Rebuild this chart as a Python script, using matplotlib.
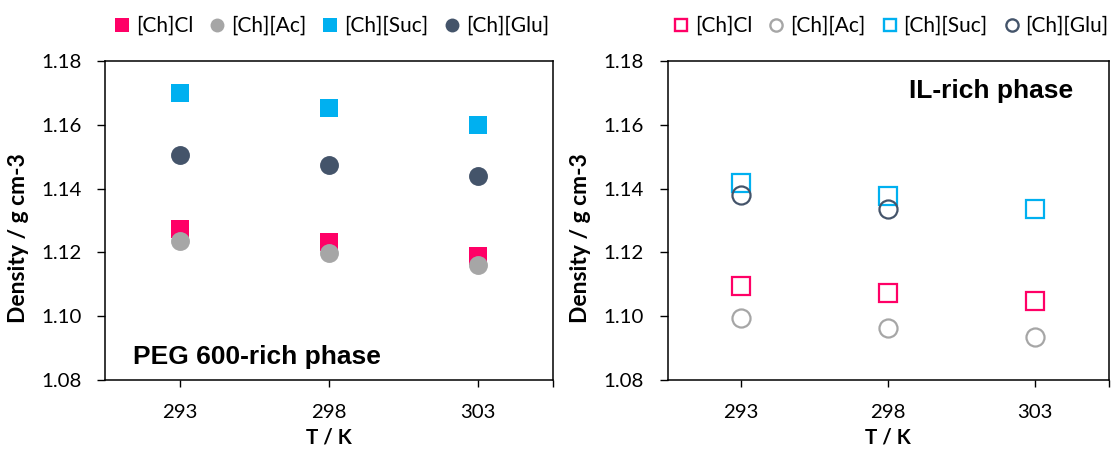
import matplotlib
matplotlib.use("Agg")
import matplotlib.pyplot as plt
from matplotlib.lines import Line2D

# Temperatures (K) and densities (g cm-3) of the coexisting phases
temperatures = ["293", "298", "303"]
series_names = ["[Ch]Cl", "[Ch][Ac]", "[Ch][Suc]", "[Ch][Glu]"]

peg_cl = [1.1272, 1.1231, 1.1190]
peg_ac = [1.1237, 1.1197, 1.1160]
peg_suc = [1.1700, 1.1653, 1.1600]
peg_glu = [1.1505, 1.1474, 1.1439]

il_cl = [1.1096, 1.1072, 1.1048]
il_ac = [1.0993, 1.0964, 1.0935]
il_suc = [1.1418, 1.1376, 1.1335]
il_glu = [1.1380, 1.1335, None]

y_ticks = [1.08, 1.10, 1.12, 1.14, 1.16, 1.18]

colors = ["#FF0066", "#A6A6A6", "#00B0F0", "#44546A"]
markers = ["s", "o", "s", "o"]

plt.rcParams["font.family"] = ["Lato", "DejaVu Sans"]

fig = plt.figure(figsize=(11.14, 4.5), dpi=100)
ax1 = fig.add_axes([0.0947, 0.1556, 0.4013, 0.7089])
ax2 = fig.add_axes([0.5992, 0.1556, 0.3959, 0.7089])

xpos = list(range(1, len(temperatures) + 1))


def style_axes(ax, label_x):
    ax.set_xlim(0.5, len(temperatures) + 0.5)
    ax.set_ylim(1.08, 1.18)
    ax.set_yticks(y_ticks)
    ax.set_yticklabels([f"{v:.2f}" for v in y_ticks])
    ax.set_xticks(xpos)
    ax.set_xticklabels(temperatures)
    ax.set_xticks([len(temperatures) + 0.5], minor=True)
    for sp in ax.spines.values():
        sp.set_linewidth(1.1)
        sp.set_color("#000000")
    ax.tick_params(axis="y", which="major", direction="out", length=6,
                   width=1.0, pad=11, labelsize=14.7, labelcolor="#000000")
    ax.tick_params(axis="x", which="both", direction="out", length=5,
                   width=1.0, pad=12, labelsize=14.7, labelcolor="#000000")
    ax.set_xlabel("T / K", fontsize=14.8, fontweight="bold", labelpad=5)
    ax.set_ylabel("Density / g cm-3", fontsize=16.5, fontweight="bold")
    ax.yaxis.set_label_coords(label_x, 0.445)


def plot_series(ax, values, color, marker, filled):
    xs = [x for x, v in zip(xpos, values) if v is not None]
    ys = [v for v in values if v is not None]
    if filled:
        ax.plot(xs, ys, linestyle="none", marker=marker, markersize=13.6,
                markerfacecolor=color, markeredgewidth=0, clip_on=False)
    else:
        ax.plot(xs, ys, linestyle="none", marker=marker, markersize=13,
                markerfacecolor="none", markeredgecolor=color,
                markeredgewidth=1.6, clip_on=False)


peg_data = [peg_cl, peg_ac, peg_suc, peg_glu]
il_data = [il_cl, il_ac, il_suc, il_glu]

for vals, c, m in zip(peg_data, colors, markers):
    plot_series(ax1, vals, c, m, True)
for vals, c, m in zip(il_data, colors, markers):
    plot_series(ax2, vals, c, m, False)

style_axes(ax1, -0.171)
style_axes(ax2, -0.173)

ax1.text(0.0605, 0.05, "PEG 600-rich phase", transform=ax1.transAxes,
         fontsize=19, fontweight="bold", family="Liberation Sans",
         ha="left", va="baseline")
ax2.text(0.919, 0.884, "IL-rich phase", transform=ax2.transAxes,
         fontsize=19, fontweight="bold", family="Liberation Sans",
         ha="right", va="baseline")


def add_legend(ax, filled, x_anchor):
    handles = []
    for name, c, m in zip(series_names, colors, markers):
        if filled:
            h = Line2D([], [], linestyle="none", marker=m, markersize=10,
                       markerfacecolor=c, markeredgewidth=0, label=name)
        else:
            h = Line2D([], [], linestyle="none", marker=m, markersize=8.8,
                       markerfacecolor="none", markeredgecolor=c,
                       markeredgewidth=1.7, label=name)
        handles.append(h)
    ax.legend(handles=handles, loc="center left",
              bbox_to_anchor=(x_anchor, 0.942),
              bbox_transform=fig.transFigure, ncol=4, frameon=False,
              fontsize=15, handlelength=0.8, handletextpad=0.27,
              columnspacing=0.75, borderpad=0, borderaxespad=0)


add_legend(ax1, True, 0.102)
add_legend(ax2, False, 0.6039)

fig.savefig("out.png", dpi=100)
